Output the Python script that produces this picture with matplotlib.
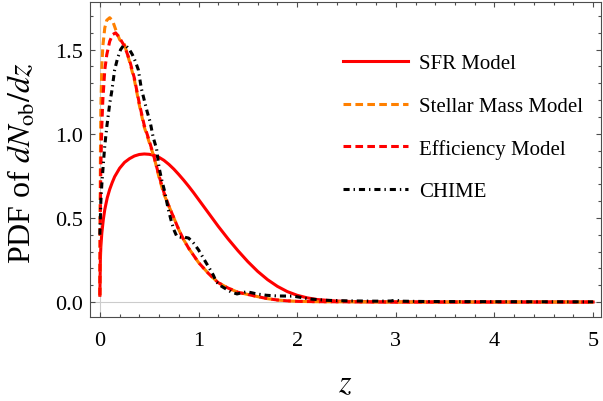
import matplotlib
matplotlib.use("Agg")
import matplotlib.pyplot as plt
from matplotlib.ticker import MultipleLocator

plt.rcParams['font.family'] = 'serif'
plt.rcParams['font.serif'] = ['Liberation Serif', 'DejaVu Serif']
plt.rcParams['mathtext.fontset'] = 'stix'

# ---------------- data ----------------
sfr_z = [0, 0.005, 0.01, 0.02, 0.035, 0.05, 0.075, 0.1, 0.125, 0.15, 0.2, 0.25, 0.3, 0.35,
         0.4, 0.45, 0.5, 0.55, 0.6, 0.65, 0.7, 0.75, 0.8, 0.85, 0.9, 0.95, 1.0, 1.05, 1.1,
         1.15, 1.2, 1.3, 1.4, 1.5, 1.6, 1.7, 1.8, 1.9, 2.0, 2.1, 2.2, 2.4, 2.6, 2.8, 3.0,
         3.5, 4.0, 4.5, 5.0]
sfr_v = [0.04, 0.25, 0.33, 0.41, 0.49, 0.55, 0.62, 0.67, 0.71, 0.745, 0.795, 0.83, 0.852,
         0.868, 0.877, 0.88, 0.878, 0.872, 0.86, 0.842, 0.818, 0.79, 0.758, 0.724, 0.688,
         0.65, 0.61, 0.57, 0.53, 0.49, 0.45, 0.375, 0.305, 0.24, 0.182, 0.133, 0.093,
         0.062, 0.04, 0.025, 0.015, 0.006, 0.002, 0.001, 0.0005, 0.0, 0.0, 0.0, 0.0]

sm_z = [0, 0.003, 0.006, 0.01, 0.02, 0.03, 0.05, 0.07, 0.1, 0.13, 0.16, 0.2, 0.25, 0.3,
        0.35, 0.4, 0.45, 0.5, 0.55, 0.6, 0.65, 0.7, 0.75, 0.8, 0.85, 0.9, 1.0, 1.1, 1.2,
        1.3, 1.4, 1.5, 1.6, 1.7, 1.8, 1.9, 2.0, 2.2, 2.5, 3.0, 4.0, 5.0]
sm_v = [0.04, 0.6, 0.9, 1.15, 1.40, 1.52, 1.63, 1.675, 1.69, 1.67, 1.62, 1.56, 1.53, 1.43,
        1.32, 1.17, 1.04, 0.95, 0.86, 0.74, 0.64, 0.57, 0.50, 0.43, 0.37, 0.32, 0.235,
        0.17, 0.115, 0.083, 0.058, 0.045, 0.032, 0.02, 0.012, 0.007, 0.004, 0.002, 0.001,
        0.0, 0.0, 0.0]

eff_z = [0, 0.003, 0.006, 0.01, 0.02, 0.03, 0.05, 0.07, 0.1, 0.13, 0.16, 0.2, 0.25, 0.3,
         0.35, 0.4, 0.45, 0.5, 0.55, 0.6, 0.65, 0.7, 0.75, 0.8, 0.85, 0.9, 1.0, 1.1, 1.2,
         1.3, 1.4, 1.5, 1.6, 1.7, 1.8, 1.9, 2.0, 2.2, 2.5, 3.0, 4.0, 5.0]
eff_v = [0.04, 0.4, 0.6, 0.8, 1.05, 1.2, 1.38, 1.47, 1.55, 1.59, 1.60, 1.57, 1.52, 1.44,
         1.33, 1.18, 1.05, 0.96, 0.86, 0.75, 0.65, 0.57, 0.50, 0.43, 0.37, 0.32, 0.235,
         0.17, 0.115, 0.083, 0.058, 0.045, 0.032, 0.02, 0.012, 0.007, 0.004, 0.002, 0.001,
         0.0, 0.0, 0.0]

chime_z = [0, 0.005, 0.01, 0.02, 0.035, 0.05, 0.07, 0.085, 0.1, 0.12, 0.15, 0.18, 0.21,
           0.24, 0.27, 0.3, 0.33, 0.36, 0.39, 0.42, 0.45, 0.48, 0.51, 0.54, 0.575, 0.6,
           0.625, 0.66, 0.69, 0.72, 0.75, 0.78, 0.82, 0.86, 0.9, 0.95, 1.0, 1.03, 1.07,
           1.115, 1.15, 1.18, 1.23, 1.28, 1.33, 1.39, 1.44, 1.49, 1.54, 1.59, 1.69, 1.8,
           1.96, 2.13, 2.3, 2.5, 2.8, 2.95, 3.0, 3.05, 3.3, 4.0, 5.0]
chime_v = [0.40, 0.5, 0.6, 0.7, 0.82, 0.93, 1.04, 1.11, 1.18, 1.25, 1.38, 1.45, 1.50,
           1.525, 1.52, 1.50, 1.47, 1.43, 1.38, 1.27, 1.20, 1.13, 1.07, 0.98, 0.91, 0.80,
           0.73, 0.65, 0.56, 0.49, 0.43, 0.39, 0.385, 0.385, 0.38, 0.35, 0.31, 0.28, 0.24,
           0.196, 0.16, 0.12, 0.095, 0.077, 0.06, 0.048, 0.055, 0.061, 0.055, 0.048, 0.04,
           0.036, 0.035, 0.018, 0.01, 0.007, 0.005, 0.006, 0.012, 0.005, 0.003, 0.002,
           0.001]

labels = ["SFR Model", "Stellar Mass Model", "Efficiency Model", "CHIME"]
xticks = [0, 1, 2, 3, 4, 5]
yticks = [0.0, 0.5, 1.0, 1.5]

# ---------------- figure ----------------
W, H = 603, 402
fig = plt.figure(figsize=(W / 100, H / 100), dpi=100)
ax = fig.add_axes([90 / W, 1 - 318 / H, (601 - 90) / W, (318 - 2.7) / H])

ax.axhline(0, color='#cccccc', lw=0.8, zorder=0)
ax.axvline(0, color='#cccccc', lw=0.8, zorder=0)

lw = 2.2
ax.plot(sfr_z, sfr_v, color='#ff0000', lw=lw, label=labels[0])
ax.plot(sm_z, sm_v, color='#ff8000', lw=lw, linestyle=(0, (2.5, 1.4)), label=labels[1])
ax.plot(eff_z, eff_v, color='#ff0000', lw=lw, linestyle=(0, (2.5, 1.4)), label=labels[2])
ax.plot(chime_z, chime_v, color='black', lw=lw, linestyle=(0, (2.0, 1.3, 0.45, 1.3)),
        label=labels[3])

ax.set_xlim(-0.10, 5.08)
ax.set_ylim(-0.089, 1.785)
ax.set_xticks(xticks)
ax.set_xticklabels([str(t) for t in xticks])
ax.set_yticks(yticks)
ax.set_yticklabels([f"{t:.1f}" for t in yticks])
ax.xaxis.set_minor_locator(MultipleLocator(0.2))
ax.yaxis.set_minor_locator(MultipleLocator(0.1))

fc = '#4d4d4d'
for s in ax.spines.values():
    s.set_color(fc)
    s.set_linewidth(0.8)
ax.tick_params(which='both', direction='in', top=True, right=True, color=fc,
               labelsize=16, width=0.8)
ax.tick_params(which='major', length=3.8)
ax.tick_params(which='minor', length=2.2)
ax.tick_params(axis='x', which='major', pad=10)
ax.tick_params(axis='y', which='major', pad=5)

ax.set_xlabel(r"$z$", fontsize=23, va='center')
ax.xaxis.set_label_coords(0.5, -0.21)
ax.set_ylabel(r"PDF of $dN_{\rm ob}/dz$", fontsize=23, va='center')
ax.yaxis.set_label_coords(-0.133, 0.49)

leg = ax.legend(loc='upper left', bbox_to_anchor=(0.495, 0.835), frameon=False,
                fontsize=15, handlelength=3.1, handletextpad=0.55, labelspacing=1.1,
                borderpad=0, borderaxespad=0)

fig.savefig("out.png", dpi=100)
